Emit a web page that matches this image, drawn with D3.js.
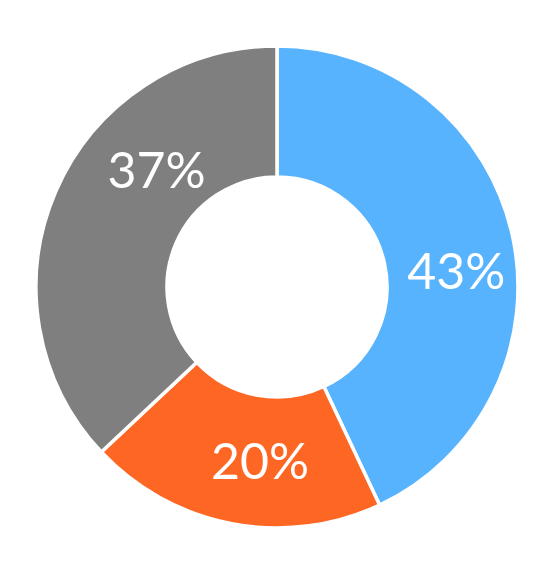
<!DOCTYPE html>
<html><head><meta charset="utf-8">
<script src="https://cdn.jsdelivr.net/npm/d3@7"></script>
<style>html,body{margin:0;padding:0;background:#fff;}svg{display:block;}</style>
</head><body>
<svg id="chart" width="557" height="584"></svg>
<script>
const categories = ["A", "B", "C"];
const values = [43, 20, 37];
const labels = ["43%", "20%", "37%"];
const colors = ["#57b3fe", "#fe6624", "#7f7f7f"];

const W = 557, H = 584, cx = 277, cy = 287, rOut = 241, rIn = 110;
// label anchor (angle in degrees clockwise from top, radius) as laid out in the reference
const labelLayout = [{a: 84.9, r: 180}, {a: 185.6, r: 175}, {a: 314.2, r: 168}];
const fontSize = 50;

const svg = d3.select("#chart");
const g = svg.append("g").attr("transform", `translate(${cx},${cy})`);
const pie = d3.pie().sort(null).value(d => d)(values);
const arc = d3.arc().innerRadius(rIn).outerRadius(rOut);
g.selectAll("path").data(pie).join("path")
  .attr("d", arc)
  .attr("fill", (d, i) => colors[i])
  .attr("stroke", "#fff").attr("stroke-width", 3.5).attr("stroke-linejoin", "miter");

g.selectAll("text").data(pie).join("text")
  .attr("x", (d, i) => labelLayout[i].r * Math.sin(labelLayout[i].a * Math.PI / 180))
  .attr("y", (d, i) => -labelLayout[i].r * Math.cos(labelLayout[i].a * Math.PI / 180) + 0.36 * fontSize)
  .attr("text-anchor", "middle")
  .attr("font-family", "Lato, sans-serif").attr("font-size", fontSize).attr("font-weight", 400)
  .attr("fill", "#fff")
  .text((d, i) => labels[i]);
</script>
</body></html>
